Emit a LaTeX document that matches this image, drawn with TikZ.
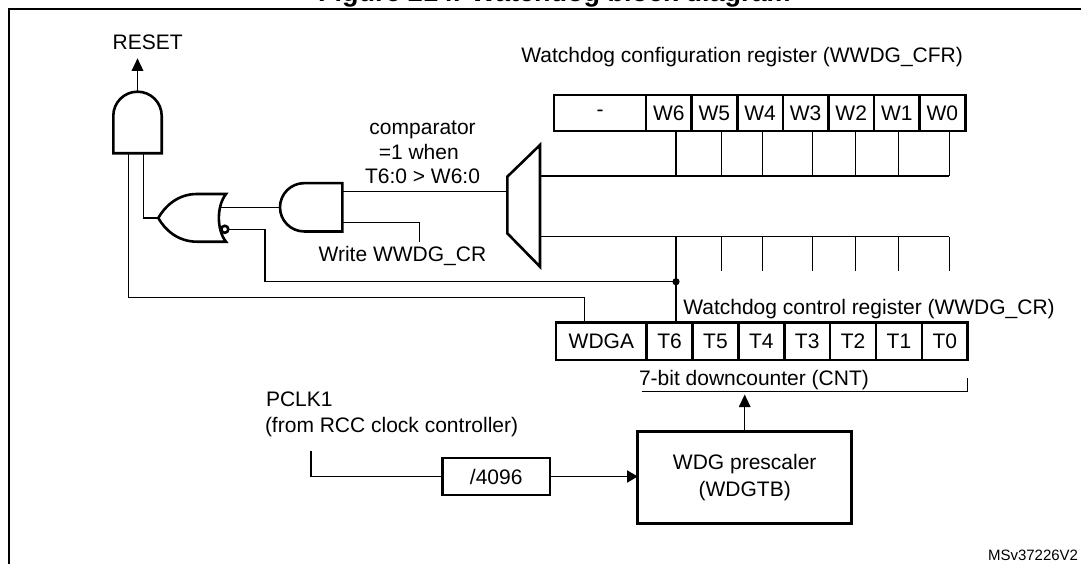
\documentclass[tikz,border=0pt]{standalone}
\usepackage{fontspec}
\setmainfont{Liberation Sans}
\usetikzlibrary{arrows.meta}
\begin{document}
\begin{tikzpicture}[x=1pt,y=-1pt,
  thin/.style={line width=1.4pt},
  bold/.style={line width=2.6pt, line join=miter},
  cell/.style={draw, line width=2.6pt, inner sep=0pt, outer sep=0pt, font=\fontsize{21}{24}\selectfont},
  box/.style={draw, line width=2.6pt, inner sep=0pt, outer sep=0pt, font=\fontsize{21}{24}\selectfont},
  lbl/.style={inner sep=0pt, outer sep=0pt, anchor=base west, font=\fontsize{21}{24}\selectfont},
  tipA/.style={-{Triangle[length=12.7pt,width=11.7pt]}},
  tipB/.style={-{Triangle[length=10.5pt,width=12pt]}}]
\useasboundingbox (0,0) rectangle (1081,564);

% clipped title
\begin{scope}
\clip (0,0) rectangle (1081,8.3);
\node[lbl, font=\fontsize{27}{30}\selectfont\bfseries] (title) at (318,2) {Figure 214. Watchdog block diagram};
\end{scope}

% frame
\draw[line width=2.3pt] (9.3,580) -- (9.3,9.3) -- (1095,9.3);

% top AND gate
\draw[bold] (113.3,153.3) -- (113.3,115.9) .. controls (113.3,102.5) and (124.1,91.7) .. (137.5,91.7) .. controls (150.9,91.7) and (161.7,102.5) .. (161.7,115.9) -- (161.7,153.3) -- cycle;
\coordinate (a1out) at (137.5,91.7);
\coordinate (a1inL) at (128.3,153.3);
\coordinate (a1inR) at (143.3,153.3);
\node[lbl] (reset) at (112.7,50) {RESET};
\coordinate (resettip) at (137.5,58.3);
\draw[thin, tipA] (a1out) -- (resettip);

% OR gate with inverted input
\draw[bold] (226,194) -- (197,194) .. controls (178,194) and (165,206) .. (158.3,218) .. controls (165,230) and (178,241.7) .. (197,241.7) -- (226,241.7) .. controls (216.5,230) and (216.5,206) .. (226,194) -- cycle;
\draw[bold] (224.8,229.3) circle[radius=3.5pt];
\coordinate (orout) at (158.3,218);
\coordinate (orinU) at (219.6,207.3);
\coordinate (orinL) at (228.3,229.3);

% second AND gate
\draw[bold] (342.3,183.15) -- (304.15,183.15) .. controls (290.8,183.15) and (280,194) .. (280,207.3) .. controls (280,220.6) and (290.8,231.45) .. (304.15,231.45) -- (342.3,231.45) -- cycle;
\coordinate (a2out) at (280,207.3);
\coordinate (a2inU) at (342.3,191.7);
\coordinate (a2inL) at (342.3,222.7);

% comparator
\draw[bold] (507.3,176.7) -- (540,145) -- (540,266.7) -- (507.3,233.3) -- cycle;
\coordinate (cmpin) at (507.3,191.7);
\coordinate (cmpU) at (540,176);
\coordinate (cmpL) at (540,236.7);
\node[lbl, anchor=base] (cmpt1) at (422.6,135) {comparator};
\node[lbl, anchor=base] (cmpt2) at (418.8,160) {=1 when};
\node[lbl, anchor=base] (cmpt3) at (422.5,183.3) {T6:0 > W6:0};

% write label
\node[lbl] (wr) at (318.6,261.7) {Write WWDG\_CR};
\coordinate (wrtop) at (419.5,241.7);

% CFR register
\node[lbl] (cfrl) at (521.4,62.3) {Watchdog configuration register (WWDG\_CFR)};
\node[cell, minimum width=92pt, minimum height=36pt] (cdash) at (600,113) {-};
\foreach \n [count=\i] in {W6,W5,W4,W3,W2,W1,W0}{
  \node[cell, minimum width=45.6pt, minimum height=36pt] (cfr\i) at ({646+45.6*(\i-0.5)},113) {\n};
}

% CR register
\node[lbl] (crl) at (683.3,314.3) {Watchdog control register (WWDG\_CR)};
\node[cell, minimum width=90.7pt, minimum height=37.3pt] (wdga) at (601.35,341.35) {WDGA};
\foreach \n [count=\i] in {T6,T5,T4,T3,T2,T1,T0}{
  \node[cell, minimum width=45.86pt, minimum height=37.3pt] (cr\i) at ({646.7+45.86*(\i-0.5)},341.35) {\n};
}
\node[lbl] (cntl) at (639,385) {7-bit downcounter (CNT)};
\coordinate (brL) at (641.7,391.7);
\coordinate (brR) at (967.7,391.7);
\coordinate (brT) at (967.7,377.7);
\draw[thin] (brL) -- (brR) -- (brT);

% buses
\coordinate (ubend) at (949.3,176);
\coordinate (lbend) at (949.3,236.7);
\draw[thin] (cmpU) -- (ubend);
\draw[thin] (cmpL) -- (lbend);
\foreach \x [count=\i] in {676,721.7,762.3,812.7,855.7,898.7,949.3}{
  \coordinate (ub\i) at (\x,176);
  \draw[thin] (ub\i) -- (ub\i |- cfr1.south);
  \coordinate (lb\i) at (\x,236.7);
}
\foreach \x [count=\i from 2] in {721.7,762.3,812.7,855.7,898.7,949.3}{
  \coordinate (le\i) at (\x,271);
  \draw[thin] (lb\i) -- (le\i);
}
\coordinate (jn) at (676,281.7);
\draw[thin] (lb1) -- (jn) -- (jn |- cr1.north);
\fill (jn) circle[radius=3.6pt];

% gate connections
\draw[thin] (a1inR) |- (orout);
\draw[thin] (orinU) -- (a2out);
\draw[thin] (a2inU) -- (cmpin);
\draw[thin] (a2inL) -| (wrtop);
\coordinate (orknee) at (265,281.7);
\draw[thin] (orinL) -| (orknee) -- (jn);
\coordinate (wdgaknee) at (584.3,297.3);
\draw[thin] (a1inL) |- (wdgaknee) -- (wdgaknee |- wdga.north);

% clock path
\node[box, minimum width=214pt, minimum height=91.6pt, align=center, font=\fontsize{21}{27}\selectfont] (presc) at (744.7,477.5) {WDG prescaler\\(WDGTB)};
\node[box, minimum width=107.7pt, minimum height=36.7pt] (div) at (496.2,476.5) {/4096};
\coordinate (cnttip) at (744.7,394.5);
\draw[thin, tipA] (presc.north) -- (cnttip);
\draw[thin, tipB] (div.east) -- (presc.west |- div.east);
\coordinate (pclk) at (311,451);
\draw[thin] (pclk) |- (div.west);
\node[lbl] (pclkl) at (266,406) {PCLK1};
\node[lbl] (rcc) at (265,432.7) {(from RCC clock controller)};

\node[lbl, font=\fontsize{15}{18}\selectfont] (msv) at (988,560) {MSv37226V2};
\end{tikzpicture}
\end{document}
